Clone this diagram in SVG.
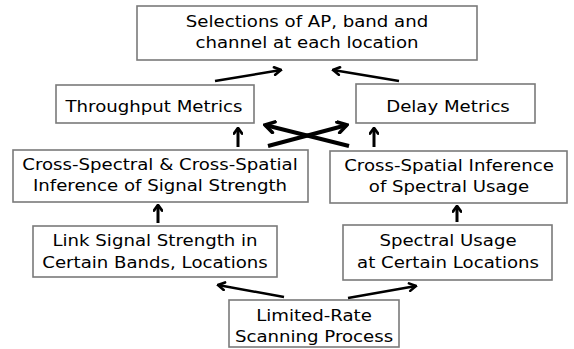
<svg xmlns="http://www.w3.org/2000/svg" width="574" height="349" viewBox="0 0 574 349">
<defs>
<style>
.box{fill:#fff;stroke:#7a7a7a;stroke-width:1.6}
.t{font-family:"DejaVu Sans",sans-serif;font-size:16.5px;fill:#000;text-anchor:middle}
.c{fill:none;stroke:#000;stroke-width:2.5}
.cx{fill:none;stroke:#000;stroke-width:4}
.cv{fill:none;stroke:#000;stroke-width:3}
</style>
<marker id="ah" viewBox="0 0 10 10" refX="8.5" refY="5" markerWidth="10" markerHeight="10" markerUnits="userSpaceOnUse" orient="auto">
<path d="M2,1.2 L8.5,5 L2,8.8" fill="none" stroke="#000" stroke-width="2.6" stroke-linejoin="miter" stroke-linecap="round"/>
</marker>
<marker id="ahx" viewBox="0 0 14 14" refX="12" refY="7" markerWidth="14" markerHeight="14" markerUnits="userSpaceOnUse" orient="auto">
<path d="M3,1.5 L12,7 L3,12.5" fill="none" stroke="#000" stroke-width="3.6" stroke-linejoin="miter" stroke-linecap="round"/>
</marker>
<marker id="ahv" viewBox="0 0 10 10" refX="8.5" refY="5" markerWidth="10" markerHeight="10" markerUnits="userSpaceOnUse" orient="auto">
<path d="M3,1 L8.5,5 L3,9" fill="none" stroke="#000" stroke-width="2.8" stroke-linejoin="miter" stroke-linecap="round"/>
</marker>
</defs>
<rect width="574" height="349" fill="#fff"/>

<g id="selections">
<rect class="box" x="137" y="6" width="340" height="54"/>
<text class="t" transform="translate(307 0) scale(1.1 1)" y="27">Selections of AP, band and</text>
<text class="t" transform="translate(307 0) scale(1.1 1)" y="48">channel at each location</text>
</g>

<g id="throughput">
<rect class="box" x="56" y="85" width="198" height="38"/>
<text class="t" transform="translate(154 0) scale(1.1 1)" y="112">Throughput Metrics</text>
</g>

<g id="delay">
<rect class="box" x="356" y="84" width="179" height="39"/>
<text class="t" transform="translate(448 0) scale(1.1 1)" y="112">Delay Metrics</text>
</g>

<g id="cross-spectral">
<rect class="box" x="13" y="150" width="295" height="52"/>
<text class="t" transform="translate(160 0) scale(1.1 1)" y="170">Cross-Spectral &amp; Cross-Spatial</text>
<text class="t" transform="translate(160 0) scale(1.1 1)" y="191">Inference of Signal Strength</text>
</g>

<g id="cross-spatial">
<rect class="box" x="330" y="151" width="237" height="52"/>
<text class="t" transform="translate(449 0) scale(1.1 1)" y="171">Cross-Spatial Inference</text>
<text class="t" transform="translate(449 0) scale(1.1 1)" y="192">of Spectral Usage</text>
</g>

<g id="link-signal">
<rect class="box" x="33" y="226" width="244" height="51"/>
<text class="t" transform="translate(155 0) scale(1.1 1)" y="246">Link Signal Strength in</text>
<text class="t" transform="translate(155 0) scale(1.1 1)" y="268">Certain Bands, Locations</text>
</g>

<g id="spectral-usage">
<rect class="box" x="343" y="225" width="209" height="55"/>
<text class="t" transform="translate(448 0) scale(1.1 1)" y="246">Spectral Usage</text>
<text class="t" transform="translate(448 0) scale(1.1 1)" y="268">at Certain Locations</text>
</g>

<g id="scanning">
<rect class="box" x="229" y="300" width="170" height="47"/>
<text class="t" transform="translate(314 0) scale(1.1 1)" y="321">Limited-Rate</text>
<text class="t" transform="translate(314 0) scale(1.1 1)" y="342">Scanning Process</text>
</g>

<g id="connectors">
<line class="c" x1="215" y1="81" x2="281" y2="70" marker-end="url(#ah)"/>
<line class="c" x1="399" y1="81" x2="333" y2="70" marker-end="url(#ah)"/>
<line class="cv" x1="238" y1="147" x2="238" y2="128" marker-end="url(#ahv)"/>
<line class="cv" x1="374" y1="147" x2="374" y2="128" marker-end="url(#ahv)"/>
<line class="cx" x1="268" y1="146" x2="347" y2="125" marker-end="url(#ahx)"/>
<line class="cx" x1="349" y1="146" x2="265" y2="125" marker-end="url(#ahx)"/>
<line class="cv" x1="158" y1="223" x2="158" y2="205" marker-end="url(#ahv)"/>
<line class="cv" x1="457" y1="222" x2="457" y2="206" marker-end="url(#ahv)"/>
<line class="c" x1="284" y1="297" x2="218" y2="285" marker-end="url(#ah)"/>
<line class="c" x1="348" y1="298" x2="416" y2="286" marker-end="url(#ah)"/>
</g>
</svg>
